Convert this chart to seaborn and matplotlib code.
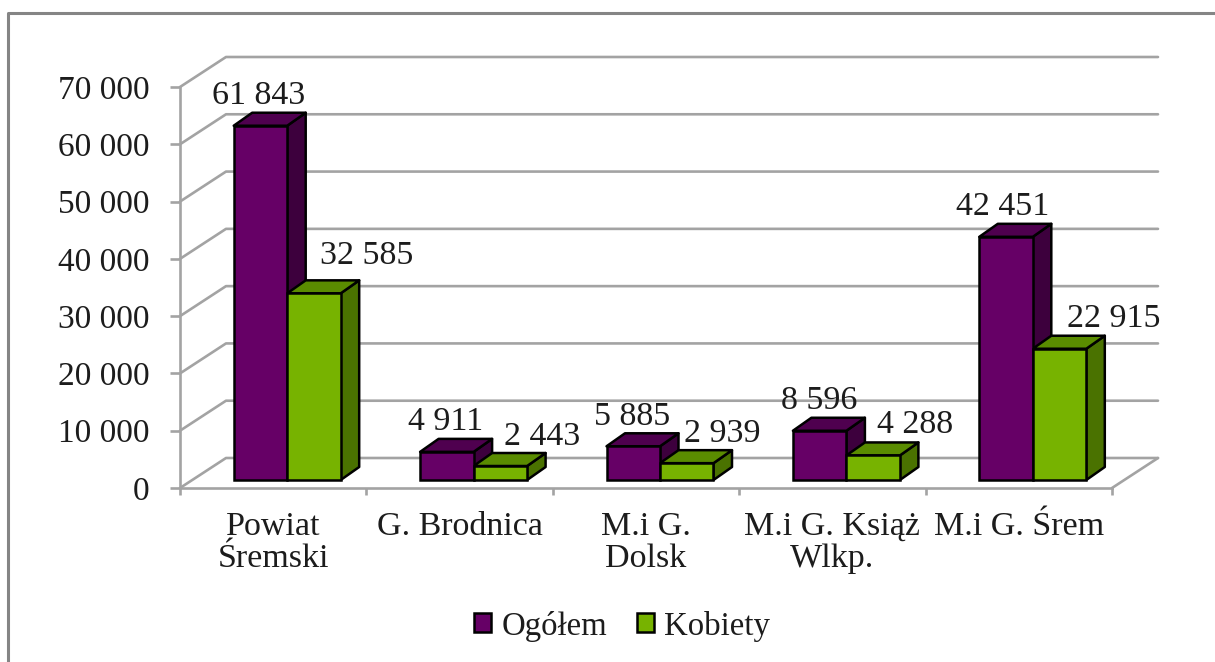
#!/usr/bin/env python3
"""Pseudo-3D clustered bars: population by gmina, Ogolem vs Kobiety."""

import matplotlib
matplotlib.use("Agg")
import matplotlib.pyplot as plt
from matplotlib.lines import Line2D
from matplotlib.patches import Polygon
from matplotlib.transforms import Affine2D
import pandas as pd
import seaborn as sns

categories = ["Powiat\nŚremski", "G. Brodnica", "M.i G.\nDolsk", "M.i G. Książ\nWlkp.", "M.i G. Śrem"]
ogolem = [61843, 4911, 5885, 8596, 42451]
kobiety = [32585, 2443, 2939, 4288, 22915]
series_names = ["Ogółem", "Kobiety"]
y_ticks = [0, 10000, 20000, 30000, 40000, 50000, 60000, 70000]

# label offsets from the top centre of each bar front, in pixels
ogolem_offsets = [(-1.5, 30), (-1, 30), (-1, 30), (0, 30), (-3, 30)]
kobiety_offsets = [(53, 38), (42, 29), (36, 29), (42, 31), (54, 30)]

FRONT = {"Ogółem": "#660066", "Kobiety": "#77b300"}
SIDE = {"Ogółem": "#3d003d", "Kobiety": "#4a7200"}
TOP = {"Ogółem": "#4f004f", "Kobiety": "#5a8c00"}
GRID = "#a3a3a3"
TEXT = "#1c1c1c"
LABEL_SIZE = 24.5
TICK_SIZE = 24
LEGEND_SIZE = 23.7
EDGE = 1.8

W, H = 1215, 662
LEFT, RIGHT, BOTTOM, TOP_PX = 180, 1112, 488, 87
PX_X = 5 / (RIGHT - LEFT)            # data units per pixel
PX_Y = 70000 / (BOTTOM - TOP_PX)

WALL_X, WALL_Y = 46 * PX_X, 30 * PX_Y     # front plane to back wall
SHIFT_X, SHIFT_Y = 14 * PX_X, 8 * PX_Y    # front plane to bar fronts
DEPTH_X, DEPTH_Y = 18.5 * PX_X, 13 * PX_Y  # bar depth


def fmt(v):
    return f"{v:,}".replace(",", " ")


def draw_walls(ax):
    kw = dict(color=GRID, lw=1.9, clip_on=False, zorder=1, solid_capstyle="round")
    for v in y_ticks:
        ax.plot([-0.5, -0.5 + WALL_X, 4.5 + WALL_X], [v, v + WALL_Y, v + WALL_Y], **kw)
    ax.plot([4.5, 4.5 + WALL_X], [0, WALL_Y], **kw)


def draw_box_faces(ax, bar, name, shift, zorder):
    x0, x1 = bar.get_x(), bar.get_x() + bar.get_width()
    h = bar.get_height()
    side = [(x1, 0), (x1 + DEPTH_X, DEPTH_Y), (x1 + DEPTH_X, h + DEPTH_Y), (x1, h)]
    top = [(x0, h), (x0 + DEPTH_X, h + DEPTH_Y), (x1 + DEPTH_X, h + DEPTH_Y), (x1, h)]
    for pts, color in ((side, SIDE[name]), (top, TOP[name])):
        ax.add_patch(Polygon(pts, closed=True, facecolor=color, edgecolor="black",
                             lw=EDGE, joinstyle="round", zorder=zorder,
                             clip_on=False, transform=shift + ax.transData))


def main():
    sns.set_theme(style="white")
    plt.rcParams["font.family"] = ["Liberation Serif", "DejaVu Serif"]

    df = pd.DataFrame({
        "gmina": categories * 2,
        "seria": [series_names[0]] * 5 + [series_names[1]] * 5,
        "wartosc": ogolem + kobiety,
    })

    fig = plt.figure(figsize=(W / 100, H / 100), dpi=100)
    ax = fig.add_axes([LEFT / W, 1 - BOTTOM / H, (RIGHT - LEFT) / W, (BOTTOM - TOP_PX) / H])
    sns.barplot(data=df, x="gmina", y="wartosc", hue="seria", order=categories,
                hue_order=series_names, palette=FRONT, saturation=1, width=0.574,
                gap=0, edgecolor="black", linewidth=EDGE, ax=ax)

    ax.set_xlim(-0.5, 4.5)
    ax.set_ylim(0, 70000)
    ax.set_xlabel("")
    ax.set_ylabel("")
    ax.patch.set_alpha(0)

    draw_walls(ax)

    shift = Affine2D().translate(SHIFT_X, SHIFT_Y)
    all_offsets = (ogolem_offsets, kobiety_offsets)
    for s, (name, container) in enumerate(zip(series_names, ax.containers)):
        for bar, off in zip(container, all_offsets[s]):
            bar.set_transform(shift + ax.transData)
            bar.set_clip_on(False)
            bar.set_zorder(3)
            draw_box_faces(ax, bar, name, shift, 2.5 + s * 0.1)
            ax.annotate(fmt(int(bar.get_height())),
                        xy=(bar.get_x() + bar.get_width() / 2 + SHIFT_X, bar.get_height() + SHIFT_Y),
                        xytext=(off[0] * 0.72, off[1] * 0.72), textcoords="offset points",
                        ha="center", va="center", fontsize=LABEL_SIZE, color=TEXT,
                        annotation_clip=False, zorder=5)

    for side in ("top", "right"):
        ax.spines[side].set_visible(False)
    for side in ("left", "bottom"):
        ax.spines[side].set_color(GRID)
        ax.spines[side].set_linewidth(1.9)

    ax.set_yticks(y_ticks, [fmt(v) for v in y_ticks])
    ax.tick_params(axis="y", length=7, width=1.9, color=GRID, pad=15,
                   labelsize=TICK_SIZE, labelcolor=TEXT, left=True)
    ax.set_xticks(range(5), categories)
    ax.set_xticks([i - 0.5 for i in range(6)], minor=True)
    ax.tick_params(axis="x", which="major", length=0, pad=17, labelsize=LABEL_SIZE, labelcolor=TEXT)
    ax.tick_params(axis="x", which="minor", length=5, width=1.9, color=GRID, bottom=True)
    for lab in ax.get_xticklabels():
        lab.set_linespacing(1.08)

    handles, labels = ax.get_legend_handles_labels()
    ax.legend(handles, labels, loc="center", bbox_to_anchor=(622 / W, 1 - 626 / H),
              bbox_transform=fig.transFigure, ncol=2, frameon=False, fontsize=LEGEND_SIZE,
              handlelength=0.52, handleheight=0.52, handletextpad=0.3, columnspacing=0.9,
              labelcolor=TEXT)

    # outer chart border, only top and left are in frame
    fig.add_artist(Line2D([8 / W, 8 / W, 1], [0, 1 - 13 / H, 1 - 13 / H], color="#858585", lw=2.2))

    fig.savefig("out.png", dpi=100)
    plt.close(fig)


if __name__ == "__main__":
    main()
